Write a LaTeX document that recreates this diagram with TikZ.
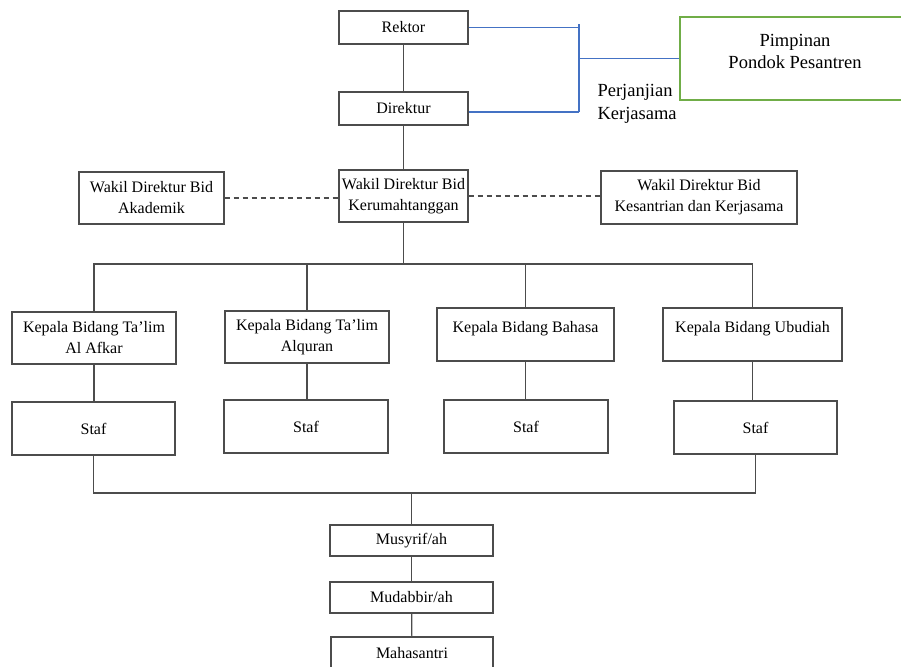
\documentclass[tikz,border=0pt]{standalone}
\usepackage{fontspec}
\setmainfont{Liberation Serif}
\usepackage{tikz}
\usetikzlibrary{positioning}
\definecolor{linkblue}{RGB}{68,114,196}
\definecolor{boxgreen}{RGB}{112,173,71}
\tikzset{
    block/.style={
        draw=black!70, line width=1.2pt,
        inner sep=0pt,
        align = center,
        font = \fontsize{16}{21}\selectfont
    },
    line/.style = {draw=black!70, line width=1.2pt},
    link/.style = {draw=linkblue, line width=1.2pt}
}
\begin{document}
\begin{tikzpicture}[x=1pt, y=-1pt]
    \useasboundingbox (0,0) rectangle (901,666);

    % Top
    \node[block, minimum width=129, minimum height=33] (rektor) at (403.5,27.5) {Rektor};
    \node[block, minimum width=129, minimum height=33] (direktur) at (403.5,108.5) {Direktur};
    \node[block, draw=boxgreen, minimum width=260, minimum height=83] (pimpinan) at (810,58.5) {};
    \node[align=center, font=\fontsize{18.5}{22}\selectfont] (pimpinant) at (795,51) {Pimpinan\\Pondok Pesantren};
    \node[anchor=west, align=left, font=\fontsize{18.5}{23}\selectfont] (perjanjian) at (594,104) {Perjanjian\\Kerjasama};
    \coordinate (jn) at (579,58.5);

    % Wakil direktur
    \node[block, minimum width=129, minimum height=52] (wkrt) at (403.5,196) {Wakil Direktur Bid\\Kerumahtanggan};
    \node[block, minimum width=145, minimum height=52] (wakad) at (151.5,198) {Wakil Direktur Bid\\Akademik};
    \node[block, minimum width=196, minimum height=53] (wkks) at (699,197.5) {Wakil Direktur Bid\\Kesantrian dan Kerjasama};
    \coordinate (bus1) at (403.5,264);

    % Kepala bidang
    \node[block, minimum width=164, minimum height=52] (kb1) at (94,338) {Kepala Bidang Ta'lim\\Al Afkar};
    \node[block, minimum width=164, minimum height=52] (kb2) at (307,337) {Kepala Bidang Ta'lim\\Alquran};
    \node[block, minimum width=177, minimum height=53] (kb3) at (525.5,334.5) {};
    \node[block, minimum width=179, minimum height=53] (kb4) at (752.5,334.5) {};
    \node[font=\fontsize{16}{21}\selectfont] (kb3t) at (525.5,329) {Kepala Bidang Bahasa};
    \node[font=\fontsize{16}{21}\selectfont] (kb4t) at (752.5,329) {Kepala Bidang Ubudiah};

    % Staf
    \node[block, minimum width=163, minimum height=53] (sf1) at (93.5,428.5) {Staf};
    \node[block, minimum width=164, minimum height=53] (sf2) at (306,426.5) {Staf};
    \node[block, minimum width=164, minimum height=53] (sf3) at (526,426.5) {Staf};
    \node[block, minimum width=163, minimum height=53] (sf4) at (755.5,427.5) {Staf};
    \coordinate (bus2) at (411.5,493);

    % Bottom
    \node[block, minimum width=163, minimum height=31] (musyrif) at (411.5,540.5) {Musyrif/ah};
    \node[block, minimum width=163, minimum height=31] (mudabbir) at (411.5,597.5) {Mudabbir/ah};
    \node[block, minimum width=162, minimum height=32] (santri) at (412,653) {Mahasantri};

    % Lines
    \draw[line] (rektor) -- (direktur);
    \draw[line] (direktur) -- (wkrt);
    \draw[link] (rektor.east) -- (rektor.east -| jn);
    \draw[link] ([yshift=-3.5pt]direktur.east) -- ([yshift=-3.5pt]direktur.east -| jn);
    \draw[link] ([yshift=3pt]rektor.east -| jn) -- ([yshift=-3.5pt]direktur.east -| jn);
    \draw[link] (jn) -- (pimpinan.west);
    \draw[line, dash pattern=on 5pt off 4pt] (wakad.east) -- (wakad.east -| wkrt.west);
    \draw[line, dash pattern=on 5pt off 4pt] (wkrt.east) -- (wkrt.east -| wkks.west);
    \draw[line] (wkrt) -- (bus1);
    \draw[line] (kb1.north) |- (kb4.north |- bus1) -- (kb4.north);
    \draw[line] (kb2.north) -- (kb2.north |- bus1);
    \draw[line] (kb3.north) -- (kb3.north |- bus1);
    \foreach \i in {1,...,4}
        \draw[line] (kb\i.south) -- (kb\i.south |- sf\i.north);
    \draw[line] (sf1.south) |- (sf4.south |- bus2) -- (sf4.south);
    \draw[line] (bus2) -- (musyrif);
    \draw[line] (musyrif) -- (mudabbir);
    \draw[line] (mudabbir) -- (santri);

\end{tikzpicture}
\end{document}
